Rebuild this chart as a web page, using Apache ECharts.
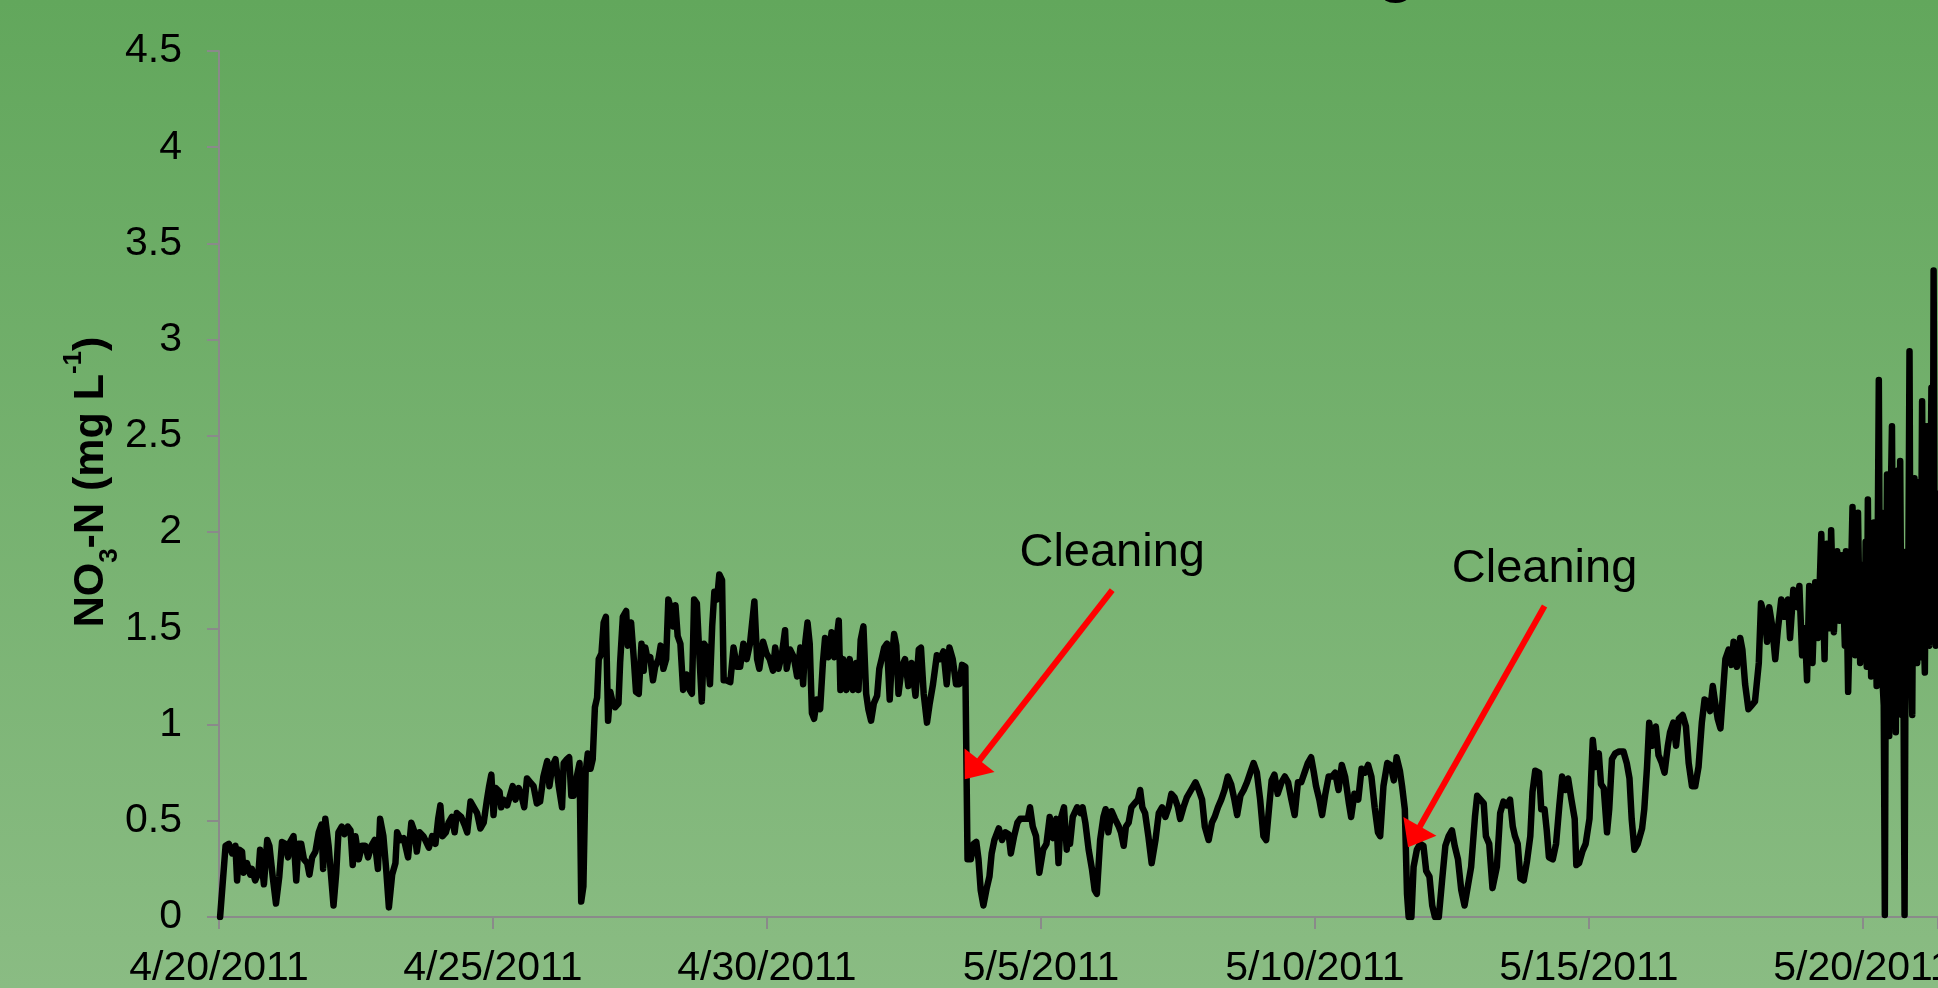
<!DOCTYPE html>
<html>
<head>
<meta charset="utf-8">
<script src="https://cdn.jsdelivr.net/npm/echarts@6/dist/echarts.min.js"></script>
<style>
html,body{margin:0;padding:0;overflow:hidden;background:#78b271;}
#chart{width:1938px;height:988px;}
</style>
</head>
<body>
<div id="chart"></div>
<script>
// X axis: days elapsed since 4/20/2011 00:00
const xTickLabels = ['4/20/2011','4/25/2011','4/30/2011','5/5/2011','5/10/2011','5/15/2011','5/20/2011'];
const xTickStepDays = 5;
const xVisibleDays = 31.37;
const yMax = 4.5;
const yStep = 0.5;

// NO3-N readings: [days since 4/20/2011, mg/L]
const nitrateReadings = [
[0.02,0.00],[0.12,0.37],[0.18,0.38],[0.24,0.33],[0.30,0.37],[0.33,0.19],[0.37,0.35],[0.42,0.34],[0.45,0.23],[0.51,0.28],
[0.57,0.22],[0.60,0.25],[0.66,0.19],[0.72,0.23],[0.75,0.35],[0.82,0.17],[0.88,0.40],[0.92,0.37],[0.98,0.21],[1.04,0.07],
[1.10,0.21],[1.15,0.39],[1.21,0.38],[1.26,0.31],[1.30,0.39],[1.36,0.42],[1.41,0.19],[1.45,0.38],[1.50,0.38],[1.55,0.30],
[1.61,0.28],[1.65,0.22],[1.70,0.31],[1.76,0.34],[1.82,0.44],[1.87,0.48],[1.90,0.25],[1.94,0.51],[2.00,0.37],[2.09,0.06],
[2.14,0.23],[2.18,0.44],[2.24,0.47],[2.29,0.43],[2.35,0.47],[2.40,0.45],[2.44,0.27],[2.49,0.42],[2.55,0.30],[2.61,0.37],
[2.67,0.37],[2.72,0.31],[2.78,0.37],[2.84,0.40],[2.90,0.25],[2.94,0.51],[3.00,0.42],[3.05,0.25],[3.10,0.05],[3.16,0.22],
[3.22,0.28],[3.25,0.44],[3.31,0.40],[3.37,0.41],[3.45,0.31],[3.51,0.49],[3.57,0.44],[3.61,0.34],[3.66,0.44],[3.73,0.42],
[3.83,0.36],[3.89,0.42],[3.95,0.38],[4.00,0.51],[4.04,0.58],[4.08,0.42],[4.14,0.44],[4.19,0.49],[4.25,0.52],[4.30,0.44],
[4.34,0.54],[4.42,0.52],[4.48,0.48],[4.53,0.44],[4.59,0.60],[4.65,0.57],[4.71,0.54],[4.77,0.46],[4.83,0.49],[4.89,0.61],
[4.93,0.68],[4.97,0.74],[5.01,0.53],[5.05,0.67],[5.12,0.65],[5.15,0.57],[5.19,0.61],[5.26,0.58],[5.32,0.64],[5.36,0.68],
[5.41,0.61],[5.47,0.67],[5.52,0.63],[5.57,0.57],[5.62,0.72],[5.68,0.70],[5.74,0.68],[5.80,0.59],[5.86,0.60],[5.92,0.73],
[5.99,0.81],[6.03,0.68],[6.08,0.78],[6.14,0.82],[6.20,0.68],[6.26,0.57],[6.29,0.80],[6.35,0.82],[6.39,0.83],[6.43,0.63],
[6.47,0.63],[6.53,0.73],[6.58,0.80],[6.61,0.08],[6.65,0.16],[6.69,0.75],[6.73,0.85],[6.78,0.77],[6.82,0.82],[6.86,1.09],
[6.90,1.14],[6.93,1.34],[6.98,1.37],[7.02,1.53],[7.06,1.56],[7.10,1.02],[7.14,1.17],[7.18,1.12],[7.23,1.09],[7.29,1.11],
[7.32,1.32],[7.37,1.56],[7.43,1.59],[7.46,1.41],[7.52,1.53],[7.57,1.34],[7.61,1.17],[7.66,1.16],[7.71,1.42],
[7.75,1.28],[7.78,1.40],[7.82,1.34],[7.87,1.35],[7.92,1.23],[7.96,1.30],[8.02,1.34],[8.06,1.41],[8.11,1.29],[8.16,1.34],
[8.20,1.65],[8.25,1.60],[8.29,1.51],[8.33,1.62],[8.37,1.46],[8.42,1.42],[8.47,1.18],[8.53,1.26],[8.59,1.18],[8.63,1.16],
[8.67,1.65],[8.72,1.63],[8.77,1.34],[8.81,1.12],[8.85,1.42],[8.90,1.40],[8.96,1.21],[9.00,1.51],[9.04,1.69],[9.09,1.65],
[9.13,1.78],[9.18,1.75],[9.21,1.23],[9.26,1.23],[9.33,1.22],[9.39,1.40],[9.45,1.30],[9.51,1.30],[9.57,1.42],[9.63,1.34],
[9.69,1.42],[9.77,1.64],[9.82,1.34],[9.86,1.29],[9.93,1.43],[9.99,1.37],[10.05,1.34],[10.11,1.28],[10.15,1.40],[10.21,1.29],
[10.27,1.36],[10.33,1.49],[10.36,1.29],[10.42,1.39],[10.49,1.35],[10.55,1.25],[10.61,1.40],[10.66,1.21],[10.70,1.43],[10.74,1.53],
[10.78,1.42],[10.82,1.06],[10.86,1.03],[10.91,1.13],[10.97,1.08],[11.02,1.32],[11.06,1.45],[11.12,1.35],[11.18,1.48],[11.23,1.35],
[11.26,1.42],[11.31,1.54],[11.34,1.18],[11.39,1.34],[11.45,1.18],[11.51,1.34],[11.57,1.18],[11.63,1.32],[11.67,1.18],[11.71,1.44],
[11.76,1.51],[11.81,1.16],[11.85,1.08],[11.90,1.02],[11.95,1.11],[12.01,1.15],[12.05,1.29],[12.10,1.35],[12.14,1.40],[12.19,1.42],
[12.24,1.13],[12.28,1.34],[12.32,1.47],[12.36,1.41],[12.40,1.16],[12.46,1.30],[12.52,1.34],[12.58,1.20],[12.64,1.32],[12.71,1.15],
[12.77,1.39],[12.81,1.40],[12.86,1.16],[12.92,1.01],[12.97,1.11],[13.03,1.21],[13.10,1.36],[13.16,1.34],[13.22,1.38],[13.28,1.21],
[13.33,1.40],[13.39,1.34],[13.45,1.21],[13.51,1.21],[13.56,1.31],[13.62,1.30],[13.66,0.30],[13.72,0.30],[13.77,0.38],[13.82,0.39],
[13.86,0.30],[13.90,0.14],[13.95,0.06],[14.01,0.15],[14.06,0.21],[14.10,0.33],[14.15,0.40],[14.23,0.46],[14.29,0.40],[14.35,0.44],
[14.41,0.43],[14.45,0.33],[14.51,0.42],[14.57,0.49],[14.62,0.51],[14.68,0.51],[14.76,0.51],[14.80,0.57],[14.85,0.47],[14.91,0.42],
[14.97,0.23],[15.04,0.35],[15.10,0.38],[15.16,0.52],[15.22,0.41],[15.28,0.51],[15.32,0.28],[15.36,0.51],[15.42,0.57],[15.47,0.35],
[15.49,0.44],[15.53,0.38],[15.58,0.52],[15.66,0.57],[15.72,0.54],[15.76,0.57],[15.81,0.49],[15.87,0.35],[15.93,0.25],[15.98,0.14],
[16.02,0.12],[16.08,0.40],[16.14,0.52],[16.18,0.56],[16.23,0.44],[16.29,0.55],[16.35,0.51],[16.42,0.47],[16.46,0.44],[16.51,0.37],
[16.55,0.47],[16.60,0.49],[16.65,0.57],[16.71,0.59],[16.77,0.61],[16.81,0.66],[16.85,0.57],[16.90,0.54],[16.96,0.42],[17.02,0.28],
[17.09,0.40],[17.15,0.54],[17.21,0.57],[17.27,0.52],[17.33,0.57],[17.38,0.64],[17.44,0.62],[17.50,0.57],[17.54,0.51],[17.60,0.57],
[17.66,0.62],[17.74,0.66],[17.82,0.70],[17.88,0.66],[17.94,0.61],[17.99,0.47],[18.06,0.40],[18.12,0.49],[18.17,0.52],[18.23,0.57],
[18.29,0.61],[18.35,0.66],[18.41,0.73],[18.47,0.69],[18.53,0.61],[18.58,0.53],[18.64,0.63],[18.70,0.66],[18.76,0.70],[18.82,0.75],
[18.88,0.80],[18.94,0.75],[19.00,0.61],[19.06,0.42],[19.11,0.40],[19.17,0.59],[19.21,0.71],[19.26,0.74],[19.32,0.64],[19.39,0.70],
[19.45,0.73],[19.51,0.70],[19.57,0.61],[19.63,0.53],[19.69,0.70],[19.75,0.70],[19.81,0.75],[19.87,0.80],[19.93,0.83],[19.98,0.75],
[20.02,0.68],[20.08,0.61],[20.13,0.53],[20.19,0.64],[20.25,0.73],[20.31,0.73],[20.37,0.75],[20.43,0.66],[20.49,0.79],[20.55,0.73],
[20.62,0.59],[20.66,0.52],[20.72,0.64],[20.79,0.61],[20.85,0.77],[20.91,0.75],[20.97,0.79],[21.03,0.73],[21.09,0.57],[21.15,0.44],
[21.19,0.42],[21.25,0.68],[21.32,0.80],[21.38,0.79],[21.44,0.71],[21.49,0.83],[21.55,0.76],[21.59,0.68],[21.64,0.56],[21.68,0.12],
[21.71,0.00],[21.76,0.00],[21.80,0.26],[21.86,0.35],[21.92,0.38],[21.98,0.37],[22.03,0.24],[22.09,0.21],[22.14,0.06],[22.19,0.00],
[22.26,0.00],[22.32,0.19],[22.38,0.37],[22.44,0.42],[22.50,0.45],[22.55,0.37],[22.61,0.30],[22.67,0.14],[22.73,0.06],[22.79,0.16],
[22.85,0.26],[22.92,0.52],[22.96,0.63],[23.02,0.61],[23.08,0.59],[23.12,0.42],[23.18,0.38],[23.24,0.15],[23.32,0.26],
[23.38,0.54],[23.44,0.60],[23.50,0.58],[23.56,0.61],[23.61,0.47],[23.65,0.42],[23.70,0.38],[23.75,0.20],[23.81,0.19],[23.87,0.29],
[23.93,0.42],[23.97,0.65],[24.02,0.76],[24.09,0.75],[24.13,0.56],[24.19,0.56],[24.23,0.45],[24.27,0.31],[24.34,0.30],[24.40,0.38],
[24.46,0.58],[24.51,0.73],[24.57,0.66],[24.62,0.72],[24.68,0.61],[24.74,0.51],[24.77,0.27],[24.82,0.28],[24.88,0.34],[24.94,0.38],
[25.01,0.51],[25.04,0.72],[25.07,0.92],[25.12,0.78],[25.18,0.85],[25.22,0.69],[25.27,0.67],[25.33,0.44],[25.37,0.56],[25.42,0.82],
[25.48,0.85],[25.55,0.86],[25.63,0.86],[25.69,0.80],[25.74,0.72],[25.78,0.51],[25.83,0.35],[25.89,0.38],[25.97,0.46],[26.01,0.56],
[26.06,0.78],[26.10,1.01],[26.16,0.89],[26.22,0.99],[26.27,0.84],[26.33,0.80],[26.38,0.75],[26.44,0.89],[26.48,0.96],[26.54,1.01],
[26.59,0.89],[26.64,1.03],[26.71,1.05],[26.77,0.99],[26.82,0.80],[26.88,0.68],[26.94,0.68],[27.00,0.78],[27.06,1.01],[27.11,1.13],
[27.17,1.12],[27.21,1.07],[27.26,1.20],[27.30,1.12],[27.35,1.03],[27.40,0.98],[27.44,1.14],[27.49,1.34],[27.55,1.39],[27.60,1.31],
[27.64,1.43],[27.70,1.30],[27.76,1.45],[27.80,1.39],[27.85,1.21],[27.91,1.08],[27.97,1.10],[28.03,1.12],[28.10,1.32],[28.14,1.63],
[28.21,1.56],[28.25,1.43],[28.29,1.61],[28.34,1.52],[28.40,1.34],[28.45,1.50],[28.51,1.65],[28.57,1.56],[28.63,1.65],[28.67,1.45],
[28.73,1.70],[28.80,1.61],[28.84,1.72],[28.89,1.36],[28.94,1.50],[28.98,1.23],[29.02,1.72],[29.08,1.32],[29.13,1.74],[29.18,1.45],
[29.24,1.99],[29.30,1.34],[29.34,1.94],[29.39,1.50],[29.42,2.01],[29.47,1.48],[29.53,1.90],[29.57,1.54],[29.62,1.88],[29.67,1.41],
[29.69,1.90],[29.73,1.17],[29.77,1.61],[29.81,2.13],[29.86,1.36],[29.91,2.10],[29.95,1.32],[29.98,1.83],[30.03,1.41],[30.05,1.95],
[30.07,1.30],[30.09,2.17],[30.11,1.55],[30.13,1.90],[30.15,1.25],[30.18,1.45],[30.20,2.05],[30.23,1.63],[30.25,1.20],[30.27,1.95],
[30.29,2.79],[30.31,1.50],[30.32,1.39],[30.34,2.10],[30.35,1.27],[30.38,1.10],[30.40,0.01],[30.42,1.60],[30.44,2.30],[30.46,1.35],
[30.48,0.94],[30.50,2.05],[30.53,2.55],[30.55,1.60],[30.56,1.27],[30.58,2.10],[30.60,0.96],[30.62,1.90],[30.64,2.32],[30.66,1.30],
[30.68,2.37],[30.70,1.50],[30.71,1.05],[30.74,1.20],[30.76,0.01],[30.78,1.55],[30.80,1.90],[30.82,1.30],[30.85,2.94],[30.87,1.45],
[30.90,1.05],[30.92,2.00],[30.94,2.28],[30.96,1.40],[30.99,1.32],[31.01,2.15],[31.03,2.26],[31.05,1.35],[31.08,2.68],[31.10,1.60],
[31.13,1.27],[31.15,2.00],[31.17,2.55],[31.19,1.50],[31.21,1.41],[31.23,2.10],[31.25,2.75],[31.27,1.45],[31.29,3.36],[31.31,1.70],
[31.33,1.41],[31.35,2.20],[31.37,2.12]
];

// Annotations: arrow tail (near label) -> arrow tip, in data units
const cleaningNotes = [
  { text: 'Cleaning', from: [16.30, 1.699], to: [13.61, 0.716] },
  { text: 'Cleaning', from: [24.19, 1.616], to: [21.70, 0.362] }
];

const FONT = '"Liberation Sans", Arial, Helvetica, sans-serif';
const chart = echarts.init(document.getElementById('chart'), null, { renderer: 'canvas' });

chart.setOption({
  animation: false,
  backgroundColor: {
    type: 'linear', x: 0, y: 0, x2: 0, y2: 1,
    colorStops: [{ offset: 0, color: '#62a75c' }, { offset: 1, color: '#8abc83' }]
  },
  grid: { left: 219, right: 0, top: 51, bottom: 71, containLabel: false, outerBoundsMode: 'none' },
  xAxis: {
    type: 'value', min: 0, max: xVisibleDays, interval: xTickStepDays,
    axisLine: { show: true, onZero: false, lineStyle: { color: '#8a8a8a', width: 2 } },
    axisTick: { show: true, inside: false, length: 12, lineStyle: { color: '#8a8a8a', width: 2 } },
    splitLine: { show: false },
    axisLabel: {
      show: true, margin: 31, fontSize: 41, color: '#000', fontFamily: FONT, hideOverlap: false,
      formatter: function (v) {
        const k = Math.round(v / xTickStepDays);
        return (Math.abs(v - k * xTickStepDays) < 1e-6 && xTickLabels[k]) ? xTickLabels[k] : '';
      }
    }
  },
  yAxis: {
    type: 'value', min: 0, max: yMax, interval: yStep,
    axisLine: { show: true, lineStyle: { color: '#8a8a8a', width: 2 } },
    axisTick: { show: true, inside: false, length: 12, lineStyle: { color: '#8a8a8a', width: 2 } },
    splitLine: { show: false },
    axisLabel: { show: true, margin: 37, fontSize: 41, color: '#000', fontFamily: FONT }
  },
  series: [{
    type: 'line',
    data: nitrateReadings,
    showSymbol: false,
    symbol: 'none',
    clip: true,
    lineStyle: { color: '#000', width: 6.5, join: 'round', cap: 'round' }
  }]
});

// Annotation graphics (positioned from data coordinates)
const els = [];
cleaningNotes.forEach(function (n) {
  const a = chart.convertToPixel({ gridIndex: 0 }, n.from);
  const b = chart.convertToPixel({ gridIndex: 0 }, n.to);
  const dx = b[0] - a[0], dy = b[1] - a[1];
  const L = Math.hypot(dx, dy), ux = dx / L, uy = dy / L;
  const headLen = 24, headHalf = 19;
  const bx = b[0] - ux * headLen, by = b[1] - uy * headLen;
  const px = -uy, py = ux;
  els.push({ type: 'line', z: 50, shape: { x1: a[0], y1: a[1], x2: bx + ux * 3, y2: by + uy * 3 },
    style: { stroke: '#ff0000', lineWidth: 6 } });
  els.push({ type: 'polygon', z: 50, shape: { points: [[b[0], b[1]], [bx + px * headHalf, by + py * headHalf], [bx - px * headHalf, by - py * headHalf]] },
    style: { fill: '#ff0000' } });
  els.push({ type: 'text', z: 50, x: a[0], y: a[1] - 37,
    style: { text: n.text, fontSize: 47, fontFamily: FONT, fill: '#000', align: 'center', verticalAlign: 'middle', textAlign: 'center', textVerticalAlign: 'middle' } });
});

// Y axis title with subscript / superscript
els.push({
  type: 'text', z: 50, x: 91.5, y: 482, rotation: Math.PI / 2,
  style: {
    text: '{b|NO}{s|3}{b|-N (mg L}{p|-1}{b|)}',
    align: 'center', verticalAlign: 'middle', textAlign: 'center', textVerticalAlign: 'middle',
    rich: {
      b: { fontSize: 43, fontWeight: 'bold', fontFamily: FONT, lineHeight: 62, fill: '#000' },
      s: { fontSize: 26, fontWeight: 'bold', fontFamily: FONT, lineHeight: 30, verticalAlign: 'bottom', fill: '#000' },
      p: { fontSize: 26, fontWeight: 'bold', fontFamily: FONT, lineHeight: 54, verticalAlign: 'top', fill: '#000' }
    }
  }
});

// Bottom of the (cropped) chart title glyph visible at the top edge
els.push({
  type: 'text', z: 50, x: 1396.5, y: -28,
  style: { text: 'g', fontSize: 64, fontWeight: 'bold', fontFamily: FONT, fill: '#000', align: 'center', verticalAlign: 'middle', textAlign: 'center', textVerticalAlign: 'middle' }
});

chart.setOption({ graphic: { elements: els } });
</script>
</body>
</html>
